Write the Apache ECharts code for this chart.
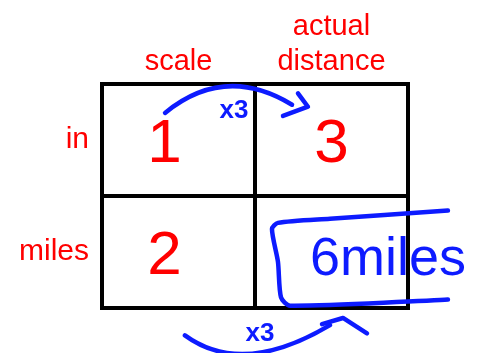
<!DOCTYPE html>
<html>
<head>
<meta charset="utf-8">
<script src="https://cdn.jsdelivr.net/npm/echarts@6/dist/echarts.min.js"></script>
<style>
  html, body { margin: 0; padding: 0; background: #fff; }
  #chart { width: 489px; height: 353px; }
</style>
</head>
<body>
<div id="chart"></div>
<script>
// ── Data ────────────────────────────────────────────────────────────────
const columns = ['scale', 'actual distance'];
const rows = ['in', 'miles'];
const scaleValues = [1, 2];           // column "scale"
const actualValues = [3, '6miles'];   // column "actual distance"
const factors = ['x3', 'x3'];         // scale -> actual, per row

const RED = '#ff0000';
const BLUE = '#0d1bff';
const FONT = 'Liberation Sans, Arial, sans-serif';

// cell data: [col, row] + text kept alongside
const cells = [];
const cellTexts = [];
rows.forEach((r, i) => {
  cells.push([0, i]); cellTexts.push(String(scaleValues[i]));
  cells.push([1, i]); cellTexts.push(String(actualValues[i]));
});

// arrows: [col, row]
const arrows = factors.map((f, i) => [0, i]);

// ── Helpers ─────────────────────────────────────────────────────────────
// offsets in cell units (w,h) relative to the centre of the left cell
const arcStyle = [
  { // top row: arc above
    start: [-0.088, -0.242], cp: [0.304, -0.68], end: [0.742, -0.315],
    head: [[0.683, -0.215], [0.846, -0.297], [0.781, -0.416]],
    text: [0.363, -0.262]
  },
  { // bottom row: arc below
    start: [0.042, 0.744], cp: [0.418, 1.119], end: [0.99, 0.653],
    head: [[0.938, 0.644], [1.075, 0.589], [1.232, 0.726]],
    text: [0.533, 0.735]
  }
];

function renderArrow(params, api) {
  const row = api.value(1);
  const c = api.coord([0, row]);
  const sz = api.size([1, 1]);
  const s = arcStyle[row];
  const p = o => [c[0] + o[0] * sz[0], c[1] + o[1] * sz[1]];
  const a = p(s.start), b = p(s.cp), e = p(s.end), t = p(s.text);
  const stroke = { stroke: BLUE, lineWidth: 4.5, fill: null, lineCap: 'round', lineJoin: 'round' };
  return {
    type: 'group',
    children: [
      { type: 'bezierCurve', shape: { x1: a[0], y1: a[1], x2: e[0], y2: e[1], cpx1: b[0], cpy1: b[1] }, style: stroke },
      { type: 'polyline', shape: { points: s.head.map(p) }, style: stroke },
      { type: 'text', x: t[0], y: t[1], style: {
          text: factors[params.dataIndex], fill: BLUE, font: 'bold 26px ' + FONT,
          align: 'center', verticalAlign: 'middle'
        } }
    ]
  };
}

// bracket around the answer cell (relative to the cell centre)
const bracketPts = [[0.761, -0.37], [-0.01, -0.297], [-0.35, -0.26], [-0.389, -0.205],
  [-0.35, 0.087], [-0.33, 0.406], [-0.271, 0.479], [0.761, 0.425]];

function renderCell(params, api) {
  const col = api.value(0), row = api.value(1);
  const text = cellTexts[params.dataIndex];
  const c = api.coord([col, row]);
  const sz = api.size([1, 1]);
  const isAnswer = isNaN(Number(text));
  if (!isAnswer) {
    return {
      type: 'text', x: c[0] - (col === 0 ? 14 : 0), y: c[1] + 5,
      style: { text, fill: RED, font: '62px ' + FONT, align: 'center', verticalAlign: 'middle' }
    };
  }
  return {
    type: 'group',
    children: [
      { type: 'polyline',
        shape: { points: bracketPts.map(o => [c[0] + o[0] * sz[0], c[1] + o[1] * sz[1]]), smooth: 0.25 },
        style: { stroke: BLUE, lineWidth: 4.5, fill: null, lineCap: 'round', lineJoin: 'round' } },
      { type: 'text', x: c[0] - 0.14 * sz[0], y: c[1] + 8,
        style: { text, fill: BLUE, font: '54px ' + FONT, align: 'left', verticalAlign: 'middle' } }
    ]
  };
}

// ── Chart ───────────────────────────────────────────────────────────────
const chart = echarts.init(document.getElementById('chart'));
chart.setOption({
  animation: false,
  grid: {
    left: 102, right: 81, top: 84, bottom: 45,
    show: true, borderColor: '#000', borderWidth: 4, backgroundColor: 'transparent'
  },
  xAxis: {
    type: 'category', data: columns, position: 'top',
    axisLine: { show: false }, axisTick: { show: false },
    splitLine: { show: true, lineStyle: { color: '#000', width: 4 } },
    axisLabel: {
      color: RED, fontSize: 29, fontFamily: FONT, margin: 5, lineHeight: 35,
      formatter: v => v.replace(' ', '\n')
    }
  },
  yAxis: {
    type: 'category', data: rows, inverse: true,
    axisLine: { show: false }, axisTick: { show: false },
    splitLine: { show: true, lineStyle: { color: '#000', width: 4 } },
    axisLabel: { color: RED, fontSize: 30, fontFamily: FONT, margin: 13 }
  },
  series: [
    { type: 'custom', renderItem: renderCell, data: cells, z: 3, clip: false },
    { type: 'custom', renderItem: renderArrow, data: arrows, z: 4, clip: false }
  ]
});
</script>
</body>
</html>
